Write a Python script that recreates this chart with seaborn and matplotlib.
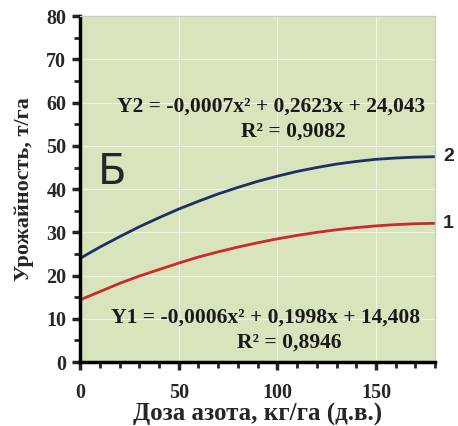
import pandas as pd
import matplotlib.pyplot as plt
import seaborn as sns
from matplotlib.ticker import MultipleLocator

# values
dose = [0, 10, 20, 30, 40, 50, 60, 70, 80, 90, 100, 110, 120, 130, 140, 150, 160, 170, 180]
y2 = [24.0, 26.6, 29.0, 31.3, 33.4, 35.4, 37.2, 38.9, 40.4, 41.8, 43.0, 44.1, 45.0, 45.8,
      46.4, 46.9, 47.2, 47.4, 47.5]
y1 = [14.4, 16.3, 18.2, 19.9, 21.4, 22.9, 24.3, 25.5, 26.6, 27.6, 28.5, 29.3, 30.0, 30.6,
      31.1, 31.5, 31.8, 32.0, 32.1]

eq2 = "Y2 = -0,0007x² + 0,2623x + 24,043"
r2_2 = "R² = 0,9082"
eq1 = "Y1 = -0,0006x² + 0,1998x + 14,408"
r2_1 = "R² = 0,8946"

df = pd.DataFrame({"dose": dose * 2, "yield": y2 + y1,
                   "series": ["2"] * len(dose) + ["1"] * len(dose)})

sns.set_style("white")
plt.rcParams["font.family"] = ["Liberation Serif", "DejaVu Serif"]

fig = plt.figure(figsize=(4.58, 4.26), dpi=100)
ax = fig.add_axes([0.175, 0.150, 0.775, 0.812])
ax.set_facecolor("#d8e4bc")

sns.lineplot(data=df, x="dose", y="yield", hue="series",
             palette={"2": "#1c2f66", "1": "#cc2a2a"}, linewidth=2.0,
             legend=False, ax=ax)

ax.set_xlim(0, 180)
ax.set_ylim(0, 80)
ax.xaxis.set_major_locator(MultipleLocator(50))
ax.xaxis.set_minor_locator(MultipleLocator(10))
ax.yaxis.set_major_locator(MultipleLocator(10))
ax.yaxis.set_minor_locator(MultipleLocator(5))
ax.grid(True, which="major", color="white", linewidth=0.8, alpha=0.6)

for s in ["left", "bottom"]:
    ax.spines[s].set_color("black")
    ax.spines[s].set_linewidth(2.5)
for s in ["top", "right"]:
    ax.spines[s].set_color("#cccccc")
    ax.spines[s].set_linewidth(1.0)

ax.tick_params(axis="y", which="major", direction="out", length=6, width=2.5,
               labelsize=14.5, pad=4, left=True)
ax.tick_params(axis="y", which="minor", direction="out", length=4, width=2, left=True)
ax.tick_params(axis="x", which="major", direction="out", length=6, width=2.5,
               labelsize=14.5, pad=9, bottom=True)
ax.tick_params(axis="x", which="minor", direction="out", length=4, width=2, bottom=True)
for lab in ax.get_xticklabels() + ax.get_yticklabels():
    lab.set_fontweight("bold")

ax.set_xlabel("Доза азота, кг/га (д.в.)", fontsize=18, fontweight="bold", labelpad=0)
ax.set_ylabel("Урожайность, т/га", fontsize=16, fontweight="bold", labelpad=9)

tk = dict(fontsize=15.5, fontweight="bold", ha="center", va="center", color="#1a1a1a")
ax.text(97, 59, eq2, **tk)
ax.text(108, 53.2, r2_2, **tk)
ax.text(94, 10.2, eq1, **tk)
ax.text(106, 4.6, r2_1, **tk)

ax.text(16, 44, "Б", fontsize=30, family="DejaVu Sans", ha="center", va="center")
ax.text(184, y2[-1], "2", fontsize=14, fontweight="bold", family="Liberation Sans",
        ha="left", va="center", clip_on=False)
ax.text(184, y1[-1], "1", fontsize=14, fontweight="bold", family="Liberation Sans",
        ha="left", va="center", clip_on=False)

fig.savefig("out.png", dpi=100, facecolor="white")
